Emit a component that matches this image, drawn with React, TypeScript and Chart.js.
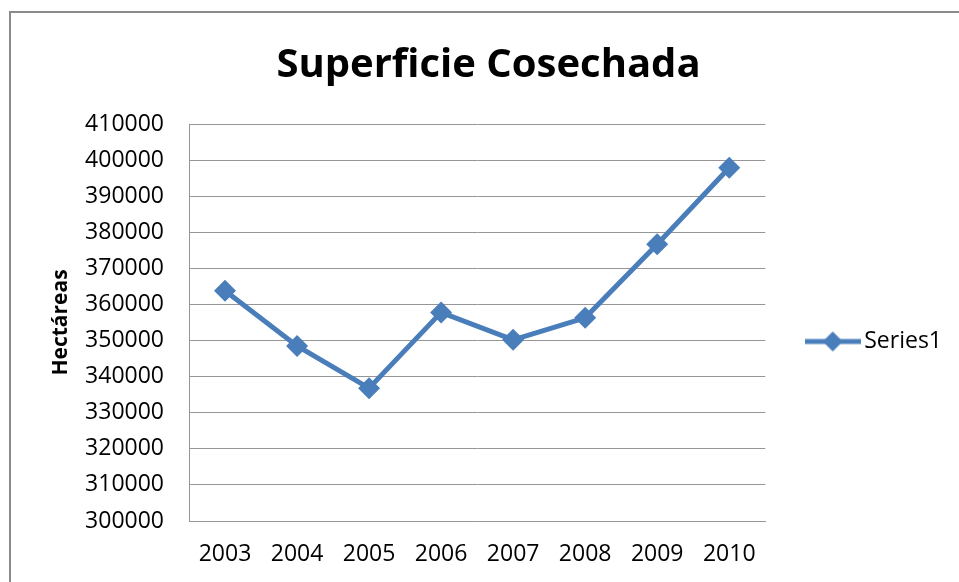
import React, { useEffect, useRef } from "react";
import { Chart, registerables } from "chart.js";

Chart.register(...registerables);

const years = ["2003", "2004", "2005", "2006", "2007", "2008", "2009", "2010"];
const superficie = [363800, 348500, 336800, 357800, 350200, 356300, 376700, 397900];
const seriesName = "Series1";
const chartTitle = "Superficie Cosechada";
const yTitle = "Hectáreas";
const yMin = 300000;
const yMax = 410000;
const yStep = 10000;

const BLUE = "#4A7EBB";
const GRID = "#969696";
const FONT = "'Open Sans', 'DejaVu Sans', sans-serif";

function makeLegendSymbol(): HTMLCanvasElement {
  const c = document.createElement("canvas");
  c.width = 56;
  c.height = 24;
  const ctx = c.getContext("2d")!;
  ctx.strokeStyle = BLUE;
  ctx.lineWidth = 5;
  ctx.beginPath();
  ctx.moveTo(0, 12);
  ctx.lineTo(56, 12);
  ctx.stroke();
  ctx.fillStyle = BLUE;
  ctx.beginPath();
  ctx.moveTo(28, 2);
  ctx.lineTo(38, 12);
  ctx.lineTo(28, 22);
  ctx.lineTo(18, 12);
  ctx.closePath();
  ctx.fill();
  return c;
}

const framePlugin = {
  id: "frame",
  beforeDraw(chart: any) {
    const { ctx, width, height } = chart;
    ctx.save();
    ctx.fillStyle = "#ffffff";
    ctx.fillRect(0, 0, width, height);
    ctx.restore();
  },
  afterDraw(chart: any) {
    const { ctx, width, height } = chart;
    ctx.save();
    ctx.strokeStyle = "#8a8a8a";
    ctx.lineWidth = 2;
    ctx.beginPath();
    ctx.moveTo(10, height);
    ctx.lineTo(10, 12);
    ctx.lineTo(width, 12);
    ctx.stroke();
    ctx.restore();
  },
};

export default function App() {
  const ref = useRef<HTMLCanvasElement | null>(null);

  useEffect(() => {
    if (!ref.current) return;
    const symbol = makeLegendSymbol();
    const chart = new Chart(ref.current, {
      type: "line",
      data: {
        labels: years,
        datasets: [
          {
            label: seriesName,
            data: superficie,
            borderColor: BLUE,
            backgroundColor: BLUE,
            borderWidth: 5,
            pointStyle: "rectRot",
            pointRadius: 11,
            pointBorderWidth: 0,
            pointBackgroundColor: BLUE,
            tension: 0,
            fill: false,
          },
        ],
      },
      options: {
        animation: false,
        responsive: false,
        devicePixelRatio: 1,
        layout: { padding: { left: 25, top: 12, right: 7, bottom: 0 } },
        plugins: {
          title: {
            display: true,
            text: chartTitle,
            color: "#000",
            font: { family: FONT, size: 40, weight: "bold", lineHeight: 1.2 },
            padding: { top: 30, bottom: 34 },
          },
          legend: {
            display: true,
            position: "right",
            align: "center",
            title: {
              display: true,
              text: " ",
              font: { size: 10, lineHeight: 1 },
              padding: { top: 40, bottom: 39 },
            },
            labels: {
              color: "#000",
              font: { family: FONT, size: 23 },
              usePointStyle: true,
              pointStyleWidth: 40,
              padding: 47.5,
              generateLabels: (c: any) => {
                const items = Chart.defaults.plugins.legend.labels.generateLabels(c);
                return items.map((it: any) => ({ ...it, pointStyle: symbol, lineWidth: 0 }));
              },
            },
          },
          tooltip: { enabled: false },
        },
        scales: {
          x: {
            type: "category",
            offset: true,
            grid: { display: false, drawTicks: false },
            border: { display: true, color: GRID, width: 1 },
            ticks: { color: "#000", font: { family: FONT, size: 23 }, padding: 20, maxRotation: 0 },
            afterFit: (s: any) => {
              s.height = 61;
            },
          },
          y: {
            min: yMin,
            max: yMax,
            grid: { color: GRID, lineWidth: 1, drawTicks: false },
            border: { display: true, color: GRID, width: 1 },
            ticks: {
              stepSize: yStep,
              color: "#000",
              font: { family: FONT, size: 23 },
              padding: 25,
              callback: (v: any) => String(v),
            },
            title: {
              display: true,
              text: yTitle,
              color: "#000",
              font: { family: FONT, size: 21, weight: "bold", lineHeight: 1.2 },
              padding: { top: 23, bottom: 0 },
            },
            afterFit: (s: any) => {
              s.width = 164;
            },
          },
        },
      },
      plugins: [framePlugin],
    });
    return () => chart.destroy();
  }, []);

  return (
    <div style={{ position: "fixed", left: 0, top: 0, width: 959, height: 582, background: "#fff" }}>
      <canvas ref={ref} width={959} height={582} style={{ display: "block", width: 959, height: 582 }} />
    </div>
  );
}
